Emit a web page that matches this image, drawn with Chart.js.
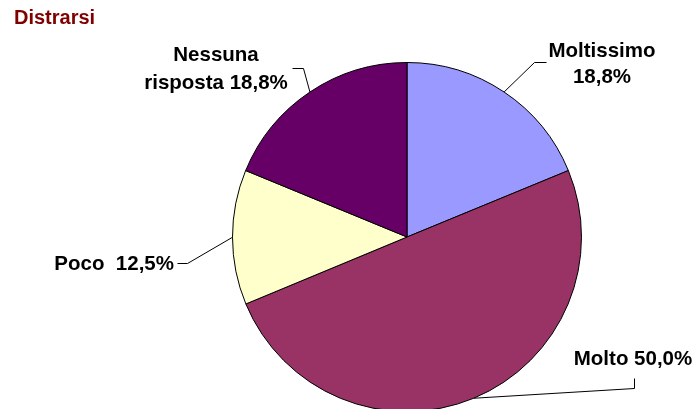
<!DOCTYPE html>
<html>
<head>
<meta charset="utf-8">
<script src="https://cdn.jsdelivr.net/npm/chart.js@4.4.0/dist/chart.umd.min.js"></script>
<style>
    html, body { margin: 0; padding: 0; background: #fff; overflow: hidden; }
    #wrap { position: relative; width: 695px; height: 420px; }
</style>
</head>
<body>
<div id="wrap"><canvas id="pieChart"></canvas></div>
<script>
    var categories = ['Moltissimo', 'Molto', 'Poco', 'Nessuna risposta'];
    var percentages = [18.8, 50.0, 12.5, 18.8];
    var sliceColors = ['#9999FF', '#993366', '#FFFFCC', '#660066'];

    // label text layout and callout positions (pixels)
    var callouts = [
        { lines: ['Moltissimo', '{v}'], align: 'center', x: 602, y: [57, 83], elbow: [534, 62], end: [546, 62] },
        { lines: ['Molto {v}'], align: 'center', x: 633, y: [365], elbow: [634, 388], end: [634, 378] },
        { lines: ['Poco  {v}'], align: 'right', x: 174, y: [270], elbow: [187, 263], end: [177, 263] },
        { lines: ['Nessuna', 'risposta {v}'], align: 'center', x: 216, y: [61, 89], elbow: [303, 68], end: [292, 68] }
    ];

    var labelFont = 'bold 20.5px "Liberation Sans", Arial, sans-serif';

    function fmt(v) {
        return v.toFixed(1).replace('.', ',') + '%';
    }

    var calloutPlugin = {
        id: 'callouts',
        afterDraw: function (chart) {
            var ctx = chart.ctx;
            var meta = chart.getDatasetMeta(0);
            ctx.save();

            // title
            ctx.fillStyle = '#800000';
            ctx.font = 'bold 20px "Liberation Sans", Arial, sans-serif';
            ctx.textAlign = 'left';
            ctx.textBaseline = 'alphabetic';
            ctx.fillText('Distrarsi', 14, 24);

            meta.data.forEach(function (arc, i) {
                var c = callouts[i];
                var mid = (arc.startAngle + arc.endAngle) / 2;
                var ex = arc.x + arc.outerRadius * Math.cos(mid);
                var ey = arc.y + arc.outerRadius * Math.sin(mid);

                ctx.strokeStyle = '#000';
                ctx.lineWidth = 1;
                ctx.beginPath();
                ctx.moveTo(ex, ey);
                ctx.lineTo(c.elbow[0] + 0.5, c.elbow[1] + 0.5);
                ctx.lineTo(c.end[0] + 0.5, c.end[1] + 0.5);
                ctx.stroke();

                ctx.fillStyle = '#000';
                ctx.font = labelFont;
                ctx.textAlign = c.align;
                c.lines.forEach(function (line, k) {
                    var txt = line.replace('{v}', fmt(percentages[i]));
                    ctx.fillText(txt, c.x, c.y[k]);
                });
            });
            ctx.restore();
        }
    };

    document.addEventListener('DOMContentLoaded', function () {
        var ctx = document.getElementById('pieChart').getContext('2d');

        new Chart(ctx, {
            type: 'pie',
            data: {
                labels: categories,
                datasets: [{
                    data: percentages,
                    backgroundColor: sliceColors,
                    borderColor: '#000',
                    borderWidth: 1
                }]
            },
            options: {
                responsive: true,
                maintainAspectRatio: false,
                animation: false,
                layout: {
                    padding: { top: 62, bottom: 8, left: 232, right: 113 }
                },
                plugins: {
                    legend: { display: false },
                    tooltip: { enabled: false },
                    title: { display: false }
                }
            },
            plugins: [calloutPlugin]
        });
    });
</script>
</body>
</html>
